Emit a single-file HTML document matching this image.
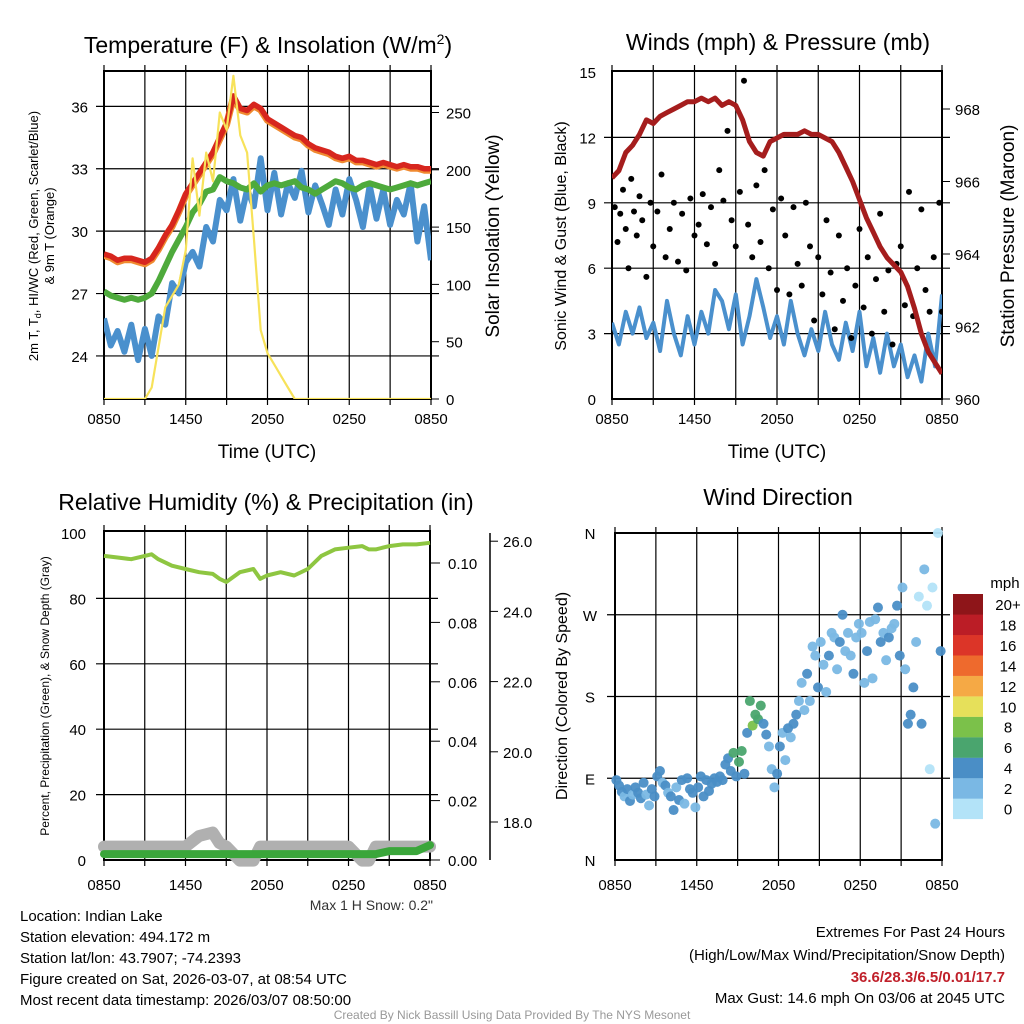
<!DOCTYPE html>
<html><head><meta charset="utf-8"><style>
html,body{margin:0;padding:0;background:#fff;}
svg{display:block;font-family:"Liberation Sans",sans-serif;}
</style></head><body>
<svg id="c" width="1024" height="1024" viewBox="0 0 1024 1024" xmlns="http://www.w3.org/2000/svg">
<text x="268" y="53" font-size="23" text-anchor="middle">Temperature (F) &amp; Insolation (W/m<tspan font-size="14" dy="-9">2</tspan><tspan dy="9">)</tspan></text>
<text x="778" y="50" font-size="23" text-anchor="middle">Winds (mph) &amp; Pressure (mb)</text>
<text x="266" y="510" font-size="23" text-anchor="middle">Relative Humidity (%) &amp; Precipitation (in)</text>
<text x="778" y="505" font-size="23" text-anchor="middle">Wind Direction</text>
<text x="267" y="458" font-size="19" text-anchor="middle">Time (UTC)</text>
<text x="777" y="458" font-size="19" text-anchor="middle">Time (UTC)</text>
<text transform="translate(38,236) rotate(-90)" font-size="13" text-anchor="middle">2m T, T<tspan font-size="9" dy="3">d</tspan><tspan dy="-3">, HI/WC (Red, Green, Scarlet/Blue)</tspan></text>
<text transform="translate(54,236) rotate(-90)" font-size="13" text-anchor="middle">&amp; 9m T (Orange)</text>
<text transform="translate(499,236) rotate(-90)" font-size="19" text-anchor="middle">Solar Insolation (Yellow)</text>
<text transform="translate(566,236) rotate(-90)" font-size="16" text-anchor="middle">Sonic Wind &amp; Gust (Blue, Black)</text>
<text transform="translate(1014,236) rotate(-90)" font-size="19" text-anchor="middle">Station Pressure (Maroon)</text>
<text transform="translate(49,696) rotate(-90)" font-size="12" text-anchor="middle">Percent, Precipitation (Green), &amp; Snow Depth (Gray)</text>
<text transform="translate(567,696) rotate(-90)" font-size="16" text-anchor="middle">Direction (Colored By Speed)</text>
<text x="433" y="910" font-size="14" text-anchor="end" fill="#333">Max 1 H Snow: 0.2"</text>
<g font-size="15">
<text x="20" y="921">Location: Indian Lake</text>
<text x="20" y="942">Station elevation: 494.172 m</text>
<text x="20" y="963">Station lat/lon: 43.7907; -74.2393</text>
<text x="20" y="984">Figure created on Sat, 2026-03-07, at 08:54 UTC</text>
<text x="20" y="1005">Most recent data timestamp: 2026/03/07 08:50:00</text>
</g>
<g font-size="15" text-anchor="end">
<text x="1005" y="937">Extremes For Past 24 Hours</text>
<text x="1005" y="960">(High/Low/Max Wind/Precipitation/Snow Depth)</text>
<text x="1005" y="982" fill="#c0202a" font-weight="bold">36.6/28.3/6.5/0.01/17.7</text>
<text x="1005" y="1003">Max Gust: 14.6 mph On 03/06 at 2045 UTC</text>
</g>
<text x="512" y="1019" font-size="12" text-anchor="middle" fill="#999">Created By Nick Bassill Using Data Provided By The NYS Mesonet</text>
</svg>
<script>
const hrs=[0,0.5,1,1.5,2,2.5,3,3.5,4,4.5,5,5.5,6,6.5,7,7.5,8,8.5,9,9.5,10,10.5,11,11.5,12,12.5,13,13.5,14,14.5,15,15.5,16,16.5,17,17.5,18,18.5,19,19.5,20,20.5,21,21.5,22,22.5,23,23.5,24];
const tempRed=[28.9,28.8,28.6,28.7,28.7,28.6,28.5,28.7,29.2,29.8,30.3,31.0,31.8,32.3,32.8,33.3,33.8,34.5,35.2,36.5,35.9,35.8,36.1,35.9,35.4,35.2,35.0,34.8,34.6,34.5,34.2,34.0,33.9,33.8,33.6,33.5,33.6,33.4,33.4,33.3,33.2,33.3,33.2,33.1,33.2,33.1,33.1,33.0,33.0];
const hiwcGreen=[27.1,26.9,26.8,26.7,26.8,26.7,26.8,27.0,27.6,28.3,29.0,29.6,30.2,30.9,31.3,31.9,32.0,32.6,32.4,32.3,32.1,32.0,32.3,31.9,32.2,32.3,32.2,32.3,32.4,32.1,32.0,31.8,32.0,32.2,32.4,32.3,32.1,32.0,32.2,32.3,32.2,32.1,32.0,32.1,32.2,32.3,32.2,32.3,32.4];
const dewBlue=[25.8,24.5,25.2,24.2,25.5,23.8,25.3,24.0,25.9,25.5,27.5,27.0,28.5,29.0,28.3,30.2,29.5,31.5,31.0,32.5,30.5,32.0,31.2,33.5,31.0,32.8,30.8,32.3,31.6,32.9,30.9,32.2,31.3,30.3,32.0,30.8,32.5,31.5,30.2,32.2,30.6,32.0,30.3,31.5,30.8,32.3,29.5,31.2,28.6];
const solarYellow=[0,0,0,0,0,0,0,10,45,80,90,100,130,210,160,215,190,250,235,282,230,215,140,60,40,30,20,10,0,0,0,0,0,0,0,0,0,0,0,0,0,0,0,0,0,0,0,0,0];
const windBlue=[3.5,2.5,4.0,3.0,4.2,2.8,3.5,2.2,4.5,3.0,2.0,3.8,2.5,4.0,3.0,5.0,4.5,3.2,4.8,2.5,3.8,5.5,4.2,2.8,3.8,2.5,4.5,3.0,2.0,3.2,2.2,4.0,2.5,1.8,3.5,2.2,4.0,1.5,2.8,1.2,3.0,1.5,2.5,1.0,2.0,0.8,3.0,1.5,4.8];
const pressure=[966.1,966.3,966.8,967.0,967.3,967.7,967.6,967.8,967.9,968.0,968.1,968.2,968.2,968.3,968.2,968.3,968.1,968.2,968.1,967.7,967.1,966.8,966.7,967.1,967.2,967.3,967.3,967.3,967.4,967.3,967.3,967.2,967.1,966.8,966.4,966.0,965.5,965.0,964.6,964.2,963.9,963.7,963.5,963.1,962.5,961.8,961.3,961.0,960.7];
const gustT=[0.2,0.4,0.6,0.8,1.0,1.2,1.4,1.6,1.8,2.0,2.2,2.5,2.8,3.0,3.3,3.6,3.9,4.2,4.5,4.8,5.1,5.4,5.7,6.0,6.3,6.6,6.9,7.2,7.5,7.8,8.1,8.4,8.7,9.0,9.3,9.6,9.9,10.2,10.5,10.8,11.1,11.4,11.7,12.0,12.3,12.6,12.9,13.2,13.5,13.8,14.1,14.4,14.7,15.0,15.3,15.6,15.9,16.2,16.5,16.8,17.1,17.4,17.7,18.0,18.3,18.6,18.9,19.2,19.5,19.8,20.1,20.4,20.7,21.0,21.3,21.6,21.9,22.2,22.5,22.8,23.1,23.4,23.8,24.0];
const gustV=[8.8,7.2,8.5,9.6,7.8,6.0,10.1,8.6,7.5,9.3,8.2,5.6,9.0,7.0,8.6,10.3,6.5,7.8,9.0,6.3,8.5,5.9,9.2,7.5,8.0,9.4,7.1,8.8,6.2,10.5,9.1,12.3,8.2,7.0,9.5,14.6,8.0,6.5,9.8,7.2,10.5,6.0,8.7,5.0,9.2,7.5,4.8,8.8,6.2,5.2,9.0,7.0,3.6,6.5,4.8,8.2,5.8,3.2,7.5,4.5,6.0,2.8,5.2,7.8,4.2,6.5,3.0,5.5,8.5,4.0,5.9,2.5,6.2,7.0,4.3,9.5,3.8,6.0,8.7,5.0,4.0,6.5,9.0,4.0];
const rhHrs=[0,1,2,3,3.5,4,5,6,7,8,8.5,9,10,11,11.5,12,13,14,15,16,17,18,19,19.5,20,21,22,23,24];
const rhGreen=[93,92.5,92,93,93.5,92,90,89,88,87.5,86,85,88,89,86,87,88,87,89,93,95,95.5,96,95,95,96,96.5,96.5,97];
const precip=[0.002,0.002,0.002,0.002,0.002,0.002,0.002,0.002,0.002,0.002,0.002,0.002,0.002,0.002,0.002,0.002,0.002,0.002,0.002,0.002,0.002,0.002,0.002,0.002,0.002,0.003,0.003,0.003,0.005];
const snowGray=[17.3,17.3,17.3,17.3,17.3,17.3,17.3,17.3,17.6,17.7,17.4,17.3,16.9,16.9,17.3,17.3,17.3,17.3,17.3,17.3,17.3,17.3,16.9,16.9,17.3,17.3,17.3,17.3,17.3];
const dirT=[0.1,0.3,0.5,0.7,0.9,1.1,1.3,1.5,1.7,1.9,2.1,2.3,2.5,2.7,2.9,3.1,3.3,3.5,3.7,3.9,4.1,4.3,4.5,4.7,4.9,5.1,5.3,5.5,5.7,5.9,6.1,6.3,6.5,6.7,6.9,7.1,7.3,7.5,7.7,7.9,8.1,8.3,8.5,8.7,8.9,9.1,9.3,9.5,9.7,9.9,10.1,10.3,10.5,10.7,10.9,11.1,11.3,11.5,11.7,11.9,12.1,12.3,12.5,12.7,12.9,13.1,13.3,13.5,13.7,13.9,14.1,14.3,14.5,14.7,14.9,15.1,15.3,15.5,15.7,15.9,16.1,16.3,16.5,16.7,16.9,17.1,17.3,17.5,17.7,17.9,18.1,18.3,18.5,18.7,18.9,19.1,19.3,19.5,19.7,19.9,20.1,20.3,20.5,20.7,20.9,21.1,21.3,21.5,21.7,21.9,22.1,22.3,22.5,22.7,22.9,23.1,23.3,23.5,23.7,23.9];
const dirDeg=[88,82,75,70,78,65,72,80,74,68,85,72,60,78,70,92,98,85,82,74,70,55,80,66,88,62,90,78,74,58,80,92,70,88,76,84,90,86,92,88,105,112,98,118,92,108,120,95,140,175,148,160,155,170,150,138,125,100,80,95,125,140,110,145,135,150,160,175,195,165,205,175,235,225,190,240,215,185,225,250,245,210,240,270,230,250,225,205,245,260,250,195,230,262,200,265,278,240,250,220,245,255,260,280,225,300,210,150,160,190,240,290,150,320,280,100,300,40,360,230];
const dirSpd=[3,3,4,2,3,3,2,3,4,3,3,2,2,3,4,3,3,2,3,2,3,4,2,3,3,2,4,3,3,2,3,4,3,4,4,3,4,4,3,4,4,4,3,5,4,5,6,4,4,6,7,6,5,6,4,3,2,2,2,3,3,2,2,3,2,3,4,2,1,2,3,2,1,2,3,2,2,1,3,2,1,2,3,4,2,1,2,3,1,2,2,1,3,2,2,1,4,3,2,1,3,1,2,3,4,1,2,4,4,3,1,0,3,1,0,0,0,1,0,4];
const xLabels=["0850","1450","2050","0250","0850"];
const tempTicks=[24,27,30,33,36];
const solarTicks=[0,50,100,150,200,250];
const windTicks=[0,3,6,9,12,15];
const presTicks=[960,962,964,966,968];
const rhTicks=[0,20,40,60,80,100];
const precipTicks=["0.00","0.02","0.04","0.06","0.08","0.10"];
const snowTicks=["18.0","20.0","22.0","24.0","26.0"];
const dirLabels=["N","E","S","W","N"];
const cbLabels=["0","2","4","6","8","10","12","14","16","18","20+"];
const cbColors=["#b3e3f8","#7ab8e4","#4a8ec6","#4aa56e","#7bc14a","#e6e05a","#f5a945","#ee6a2d","#dc3528","#bb1d26","#8e1519"];

const svg=document.getElementById('c');
const NS="http://www.w3.org/2000/svg";
function mk(tag,at,parent){const e=document.createElementNS(NS,tag);for(const k in at)e.setAttribute(k,at[k]);(parent||svg).appendChild(e);return e;}
function txt(s,x,y,anchor,size,name){const e=mk('text',{x:x,y:y,'text-anchor':anchor,'font-size':size});e.textContent=s;

return e;}
function pathD(xs,ys,fx,fy){return xs.map((t,i)=>(i?'L':'M')+fx(t).toFixed(1)+','+fy(ys[i]).toFixed(1)).join('');}

const x1=t=>104+t*(327/24);
const yT=v=>399-(v-21.93)*20.8;
const yS=v=>399-v*1.146;
const x2=t=>612+t*(330/24);
const yW=v=>399-v*21.8;
const yP=v=>399-(v-960)*36.25;
const x3=t=>104+t*(326/24);
const yRH=v=>860-v*3.27;
const yPr=v=>860-v*2970;
const ySn=v=>822-(v-18)*35.1;
const x4=t=>615+t*(327/24);
const yD=d=>860-d*(327/360);

function frame(L,R,T,B,xs,hy,name){
  const g=mk('g',{});
  
  
  xs.forEach(x=>mk('line',{x1:x,x2:x,y1:T-6,y2:B+6,stroke:'#000','stroke-width':1.2},g));
  hy.forEach(y=>mk('line',{x1:L-8,x2:R+8,y1:y,y2:y,stroke:'#000','stroke-width':1.2},g));
  mk('rect',{x:L,y:T,width:R-L,height:B-T,fill:'none',stroke:'#000','stroke-width':2},g);
}
const vg1=[];for(let h=0;h<=24;h+=3)vg1.push(x1(h));
frame(104,431,71,399,vg1,tempTicks.map(yT),'temperature-plot-frame');
const vg2=[];for(let h=0;h<=24;h+=3)vg2.push(x2(h));
frame(612,942,71,399,vg2,[3,6,9,12].map(yW),'wind-plot-frame');
const vg3=[];for(let h=0;h<=24;h+=3)vg3.push(x3(h));
frame(104,430,531,860,vg3,[20,40,60,80].map(yRH),'humidity-plot-frame');
const vg4=[];for(let h=0;h<=24;h+=3)vg4.push(x4(h));
frame(615,942,533,860,vg4,[90,180,270].map(yD),'direction-plot-frame');

[[x1,'temp'],[x2,'wind'],[x3,'humidity'],[x4,'direction']].forEach(([fx,n],pi)=>{
  const yy=[424,424,890,890][pi];
  xLabels.forEach((s,i)=>txt(s,fx(i*6),yy,'middle',15,n+'-x-tick-label'));
});
tempTicks.forEach(v=>txt(String(v),88,yT(v)+6,'end',15,'temp-y-tick-label'));
solarTicks.forEach(v=>{mk('line',{x1:431,x2:439,y1:yS(v),y2:yS(v),stroke:'#000'});txt(String(v),446,yS(v)+6,'start',15,'solar-tick-label');});
windTicks.forEach(v=>txt(String(v),596,yW(v)+6,'end',15,'wind-y-tick-label'));
presTicks.forEach(v=>{mk('line',{x1:942,x2:950,y1:yP(v),y2:yP(v),stroke:'#000'});txt(String(v),955,yP(v)+6,'start',15,'pressure-tick-label');});
rhTicks.forEach(v=>txt(String(v),86,yRH(v)+6,'end',15,'humidity-tick-label'));
precipTicks.forEach(s=>{const y=yPr(+s);mk('line',{x1:430,x2:440,y1:y,y2:y,stroke:'#000'});txt(s,448,y+6,'start',15,'precip-tick-label');});
mk('line',{x1:490,x2:490,y1:533,y2:860,stroke:'#000','stroke-width':1.5});
snowTicks.forEach(s=>{const y=ySn(+s);mk('line',{x1:490,x2:498,y1:y,y2:y,stroke:'#000'});txt(s,503,y+6,'start',15,'snow-tick-label');});
dirLabels.forEach((s,i)=>txt(s,590,yD(i*90)+6,'middle',15,'direction-tick-label'));

const cp1=mk('clipPath',{id:'cp1'});mk('rect',{x:104,y:71,width:327,height:328},cp1);
const g1=mk('g',{'clip-path':'url(#cp1)'});
let e;
e=mk('path',{d:pathD(hrs,dewBlue,x1,yT),fill:'none',stroke:'#4a90cd','stroke-width':6,'stroke-linejoin':'round'},g1);


e=mk('path',{d:pathD(hrs,hiwcGreen,x1,yT),fill:'none',stroke:'#4eaa3c','stroke-width':6,'stroke-linejoin':'round'},g1);


e=mk('path',{d:pathD(hrs,tempRed,x1,v=>yT(v)+1.5),fill:'none',stroke:'#f08a30','stroke-width':7,'stroke-linejoin':'round'},g1);


e=mk('path',{d:pathD(hrs,tempRed,x1,yT),fill:'none',stroke:'#d7261e','stroke-width':5.5,'stroke-linejoin':'round'},g1);


e=mk('path',{d:pathD(hrs,solarYellow,x1,yS),fill:'none',stroke:'#f7e25a','stroke-width':2.2,'stroke-linejoin':'round'},g1);



const cp2=mk('clipPath',{id:'cp2'});mk('rect',{x:612,y:71,width:330,height:328},cp2);
const g2=mk('g',{'clip-path':'url(#cp2)'});
e=mk('path',{d:pathD(hrs,windBlue,x2,yW),fill:'none',stroke:'#4a90cd','stroke-width':4,'stroke-linejoin':'round'},g2);


gustT.forEach((t,i)=>{const c=mk('circle',{cx:x2(t),cy:yW(gustV[i]),r:3,fill:'#000'},g2);

});
e=mk('path',{d:pathD(hrs,pressure,x2,yP),fill:'none',stroke:'#a51d1d','stroke-width':5,'stroke-linejoin':'round'},g2);



e=mk('path',{d:pathD(rhHrs,rhGreen,x3,yRH),fill:'none',stroke:'#8ec641','stroke-width':4,'stroke-linejoin':'round'});


e=mk('path',{d:pathD(rhHrs,snowGray,x3,ySn),fill:'none',stroke:'#b0b0b0','stroke-width':12,'stroke-linejoin':'round','stroke-linecap':'round'});


e=mk('path',{d:pathD(rhHrs,precip,x3,yPr),fill:'none',stroke:'#3aa63a','stroke-width':8,'stroke-linejoin':'round','stroke-linecap':'round'});



dirT.forEach((t,i)=>{const b=Math.min(10,Math.round(dirSpd[i]/2));
const c=mk('circle',{cx:x4(t),cy:yD(dirDeg[i]),r:5,fill:cbColors[b],opacity:0.95});

});

txt('mph',1005,588,'middle',15,'colorbar-title');
cbColors.forEach((col,i)=>{const y=798.5-i*20.45;
const r=mk('rect',{x:953,y:y,width:30,height:20.6,fill:col});


txt(cbLabels[i],1008,y+16,'middle',15,'colorbar-label');});
</script>
</body></html>
